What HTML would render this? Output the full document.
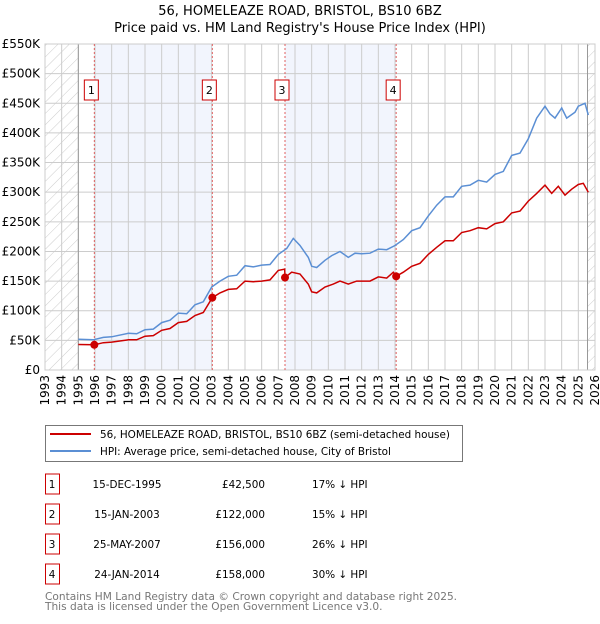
<!DOCTYPE html>
<html><head><meta charset="utf-8">
<style>
body{margin:0;background:#fff;font-family:"DejaVu Sans","Liberation Sans",sans-serif;}
svg text{font-family:"DejaVu Sans","Liberation Sans",sans-serif;}
</style></head>
<body>
<svg id="chart" width="600" height="620" xmlns="http://www.w3.org/2000/svg">
<defs>
<pattern id="hatch" patternUnits="userSpaceOnUse" width="8" height="8" patternTransform="rotate(45)">
<line x1="0" y1="0" x2="0" y2="8" stroke="#ccc" stroke-width="1"/>
</pattern>
</defs>
<text x="300" y="15" text-anchor="middle" font-size="13" fill="#000">56, HOMELEAZE ROAD, BRISTOL, BS10 6BZ</text>
<text x="300" y="32" text-anchor="middle" font-size="13" fill="#000">Price paid vs. HM Land Registry's House Price Index (HPI)</text>
<g id="plot"></g>
<g>
<rect x="45.5" y="425.5" width="417" height="36" fill="#fff" stroke="#777"/>
<line x1="50" y1="434" x2="91" y2="434" stroke="#cc0000" stroke-width="2"/>
<text x="100" y="438" font-size="10.4">56, HOMELEAZE ROAD, BRISTOL, BS10 6BZ (semi-detached house)</text>
<line x1="50" y1="451" x2="91" y2="451" stroke="#5b8fd4" stroke-width="2"/>
<text x="100" y="455" font-size="10.4">HPI: Average price, semi-detached house, City of Bristol</text>
</g>
<g id="table" font-size="10.4"></g>
<text x="45" y="600" font-size="10.6" fill="#777">Contains HM Land Registry data © Crown copyright and database right 2025.</text>
<text x="45" y="610" font-size="10.6" fill="#777">This data is licensed under the Open Government Licence v3.0.</text>
</svg>
<script>
const yTicks=[0,50,100,150,200,250,300,350,400,450,500,550];
const yTickLabels=["£0","£50K","£100K","£150K","£200K","£250K","£300K","£350K","£400K","£450K","£500K","£550K"];
const years=[1993,1994,1995,1996,1997,1998,1999,2000,2001,2002,2003,2004,2005,2006,2007,2008,2009,2010,2011,2012,2013,2014,2015,2016,2017,2018,2019,2020,2021,2022,2023,2024,2025,2026];
const hpiT=[1995,1995.9,1996.5,1997,1998,1998.5,1999,1999.5,2000,2000.5,2001,2001.5,2002,2002.5,2003,2003.5,2004,2004.5,2005,2005.5,2006,2006.5,2007,2007.5,2007.9,2008.3,2008.8,2009,2009.3,2009.8,2010.2,2010.7,2011.2,2011.6,2012,2012.5,2013,2013.5,2014,2014.5,2015,2015.5,2016,2016.5,2017,2017.5,2018,2018.5,2019,2019.5,2020,2020.5,2021,2021.5,2022,2022.5,2023,2023.3,2023.6,2024,2024.3,2024.8,2025,2025.4,2025.6];
const hpiV=[52,51,55,56,62,61,68,69,80,84,96,95,110,115,140,150,158,160,176,174,177,178,195,205,222,210,190,175,173,185,193,200,190,197,196,197,204,203,210,220,235,240,260,278,292,292,310,312,320,317,330,335,362,366,390,425,445,432,425,442,425,435,445,450,430];
const ppT=[1995,1995.96,1996.5,1997,1998,1998.5,1999,1999.5,2000,2000.5,2001,2001.5,2002,2002.5,2003.04,2003.5,2004,2004.5,2005,2005.5,2006,2006.5,2007,2007.38,2007.4,2007.8,2008.3,2008.8,2009,2009.3,2009.8,2010.3,2010.7,2011.2,2011.7,2012.5,2013,2013.5,2013.9,2014.07,2014.5,2015,2015.5,2016,2016.5,2017,2017.5,2018,2018.5,2019,2019.5,2020,2020.5,2021,2021.5,2022,2022.5,2023,2023.4,2023.8,2024.2,2024.6,2025,2025.3,2025.6];
const ppV=[43,42.5,46,47,51,51,57,58,67,70,80,82,92,97,122,130,136,137,150,149,150,152,168,170,156,165,162,145,132,130,140,145,150,145,150,150,157,155,165,158,165,175,180,195,207,218,218,232,235,240,238,247,250,265,268,285,298,312,298,310,295,305,313,315,300];
const saleT=[1995.96,2003.04,2007.4,2014.07];
const saleV=[42.5,122,156,158];
const saleLabels=["1","2","3","4"];
const saleDates=["15-DEC-1995","15-JAN-2003","25-MAY-2007","24-JAN-2014"];
const salePrices=["£42,500","£122,000","£156,000","£158,000"];
const saleDiff=["17% ↓ HPI","15% ↓ HPI","26% ↓ HPI","30% ↓ HPI"];

const L=45,R=595,T=44,B=370,x0=1993,x1=2026,yMax=550;
const X=t=>L+(t-x0)/(x1-x0)*(R-L);
const Y=v=>B-v/yMax*(B-T);
const NS="http://www.w3.org/2000/svg";
const g=document.getElementById('plot');
function mk(tag,attrs,parent){const e=document.createElementNS(NS,tag);for(const k in attrs)e.setAttribute(k,attrs[k]);(parent||g).appendChild(e);return e;}

for(let i=0;i<saleT.length;i+=2){
  const e=mk('rect',{x:X(saleT[i]),y:T,width:X(saleT[i+1])-X(saleT[i]),height:B-T,fill:'#f2f5fd'});
  
  
}
let h1=mk('rect',{x:L,y:T,width:X(1995)-L,height:B-T,fill:'url(#hatch)'});


let h2=mk('rect',{x:X(2025.55),y:T,width:R-X(2025.55),height:B-T,fill:'url(#hatch)'});


yTicks.forEach((v,i)=>{
  const l=mk('line',{x1:L,x2:R,y1:Y(v),y2:Y(v),stroke:'#ccc','stroke-width':1});
  
  
  const t=mk('text',{x:L-5,y:Y(v)+4,'text-anchor':'end','font-size':12,fill:'#000'});
  t.textContent=yTickLabels[i];
  
  
});
years.forEach(yr=>{
  const l=mk('line',{x1:X(yr),x2:X(yr),y1:T,y2:B,stroke:'#ccc','stroke-width':1});
  
  
  const t=mk('text',{x:0,y:0,'text-anchor':'end','font-size':12,fill:'#000',transform:`translate(${X(yr)+4},${B+5}) rotate(-90)`});
  t.textContent=yr;
  
  
});
let d1=mk('line',{x1:X(1995),x2:X(1995),y1:T,y2:B,stroke:'#999'});


let d2=mk('line',{x1:X(2025.55),x2:X(2025.55),y1:T,y2:B,stroke:'#999'});


let fr=mk('rect',{x:L,y:T,width:R-L,height:B-T,fill:'none',stroke:'#ccc'});


saleT.forEach((t,i)=>{
  const l=mk('line',{x1:X(t),x2:X(t),y1:T,y2:B,stroke:'#e06060','stroke-dasharray':'2,2','stroke-width':1});
  
  
  const r=mk('rect',{x:X(t)-10,y:80,width:14,height:20,fill:'#fff',stroke:'#cc0000'});
  
  
  const tx=mk('text',{x:X(t)-3,y:94,'text-anchor':'middle','font-size':11});
  tx.textContent=saleLabels[i];
  
  
});
const path=(ts,vs)=>ts.map((t,i)=>(i?'L':'M')+X(t).toFixed(1)+','+Y(vs[i]).toFixed(1)).join('');
let hp=mk('path',{d:path(hpiT,hpiV),fill:'none',stroke:'#5b8fd4','stroke-width':1.5});


let pp=mk('path',{d:path(ppT,ppV),fill:'none',stroke:'#cc0000','stroke-width':1.5});


saleT.forEach((t,i)=>{
  const c=mk('circle',{cx:X(t),cy:Y(saleV[i]),r:4,fill:'#cc0000'});
  
  
});
const tb=document.getElementById('table');
const rowY=[484,514,544,574];
saleLabels.forEach((s,i)=>{
  const y=rowY[i];
  const r=mk('rect',{x:45.5,y:y-10,width:14,height:20,fill:'#fff',stroke:'#cc0000'},tb);
  
  
  const cells=[[52,'middle',s],[127,'middle',saleDates[i]],[265,'end',salePrices[i]],[312,'start',saleDiff[i]]];
  cells.forEach(c=>{
    const t=mk('text',{x:c[0],y:y+4,'text-anchor':c[1]},tb);
    t.textContent=c[2];
    
    
  });
});
</script>
</body></html>
